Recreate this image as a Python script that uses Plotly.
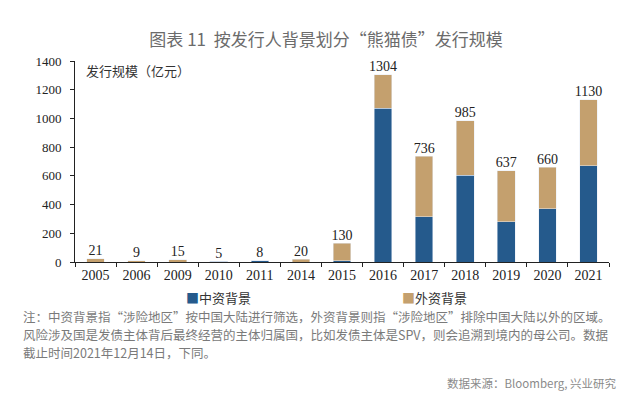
import plotly.graph_objects as go

years = ["2005", "2006", "2009", "2010", "2011", "2014", "2015",
         "2016", "2017", "2018", "2019", "2020", "2021"]
chinese_bg = [0, 0, 0, 5, 8, 0, 8, 1070, 315, 605, 280, 372, 670]
foreign_bg = [21, 9, 15, 0, 0, 20, 122, 234, 421, 380, 357, 288, 460]
totals = [21, 9, 15, 5, 8, 20, 130, 1304, 736, 985, 637, 660, 1130]
y_ticks = [0, 200, 400, 600, 800, 1000, 1200, 1400]

BLUE = "#255A8C"
TAN = "#C4A06E"
SERIF = "Liberation Serif, Times New Roman, serif"
CJK = "Noto Sans CJK SC, sans-serif"

# page body has an 8px default margin; compensate so the screenshot lines up
OFF = 8
W, H = 640, 398
L = 75 - OFF
T = 61 - OFF
B = H - (262 - OFF)
R = W - (609 - OFF)
PH = H - T - B
PW = W - L - R


def py(ypx):
    return (H - B - (ypx - OFF)) / PH


def px(xpx):
    return ((xpx - OFF) - L) / PW


fig = go.Figure()
fig.add_trace(go.Bar(x=years, y=chinese_bg, name="中资背景", marker_color=BLUE,
                     width=0.43, showlegend=False))
fig.add_trace(go.Bar(x=years, y=foreign_bg, name="外资背景", marker_color=TAN,
                     width=0.43, showlegend=False))
fig.add_trace(go.Scatter(x=years, y=totals, mode="text", text=[str(v) for v in totals],
                         textposition="top center", showlegend=False,
                         textfont=dict(family=SERIF, size=14, color="#222")))

note_font = dict(family=CJK, size=12.5, color="#7a7a7a")
annotations = [
    dict(text="发行规模（亿元）", x=px(84), y=py(70), xref="paper", yref="paper",
         xanchor="left", yanchor="middle", showarrow=False,
         font=dict(family=CJK, size=13, color="#333")),
    dict(text=f"<span style='color:{BLUE}'>■</span>中资背景", x=px(184), y=py(297),
         xref="paper", yref="paper", xanchor="left", yanchor="middle", showarrow=False,
         font=dict(family=CJK, size=13, color="#333")),
    dict(text=f"<span style='color:{TAN}'>■</span>外资背景", x=px(400), y=py(297),
         xref="paper", yref="paper", xanchor="left", yanchor="middle", showarrow=False,
         font=dict(family=CJK, size=13, color="#333")),
    dict(text="注：中资背景指“涉险地区”按中国大陆进行筛选，外资背景则指“涉险地区”排除中国大陆以外的区域。",
         x=px(22), y=py(316), xref="paper", yref="paper", xanchor="left", yanchor="middle",
         showarrow=False, borderpad=0, font=note_font),
    dict(text="风险涉及国是发债主体背后最终经营的主体归属国，比如发债主体是SPV，则会追溯到境内的母公司。数据",
         x=px(22), y=py(334), xref="paper", yref="paper", xanchor="left", yanchor="middle",
         showarrow=False, borderpad=0, font=note_font),
    dict(text="截止时间2021年12月14日，下同。",
         x=px(22), y=py(352.5), xref="paper", yref="paper", xanchor="left", yanchor="middle",
         showarrow=False, borderpad=0, font=note_font),
    dict(text="数据来源：Bloomberg, 兴业研究",
         x=px(618), y=py(383), xref="paper", yref="paper", xanchor="right", yanchor="middle",
         showarrow=False, font=dict(family=CJK, size=11.5, color="#8a8a8a")),
]

fig.update_layout(
    width=W, height=H,
    margin=dict(l=L, r=R, t=T, b=B, pad=0),
    paper_bgcolor="white", plot_bgcolor="white",
    barmode="stack",
    title=dict(text="图表 11  按发行人背景划分“熊猫债”发行规模", x=px(326), xanchor="center",
               xref="paper", y=1 - (40 - OFF) / H, yanchor="middle",
               font=dict(family=CJK, size=17, color="#6b6b6b")),
    annotations=annotations,
    showlegend=False,
)
fig.update_xaxes(type="category", showline=True, linecolor="#222", linewidth=1,
                 ticks="outside", tickson="boundaries", ticklen=4, tickcolor="#222",
                 tickfont=dict(family=SERIF, size=14, color="#222"), showgrid=False,
                 range=[-0.5, len(years) - 0.5])
fig.update_yaxes(range=[0, 1400], tickvals=y_ticks, showline=True, linecolor="#222",
                 linewidth=1, ticks="outside", ticklen=4, tickcolor="#222",
                 ticklabelstandoff=6,
                 tickfont=dict(family=SERIF, size=13, color="#222"), showgrid=False,
                 zeroline=False)

fig.write_html("out.html")
